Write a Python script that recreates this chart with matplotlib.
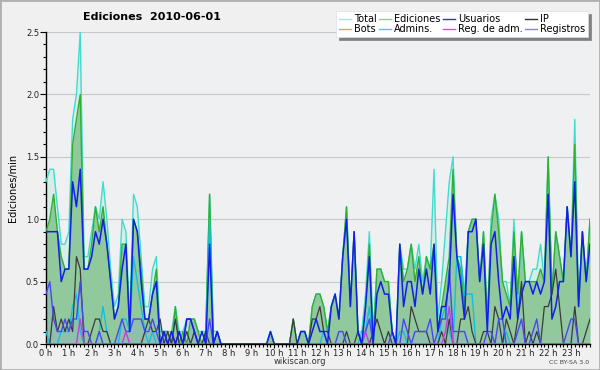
import numpy as np
import matplotlib
matplotlib.use("Agg")
import matplotlib.pyplot as plt
from matplotlib.lines import Line2D
from matplotlib.patches import Rectangle
from matplotlib.ticker import MultipleLocator

# Ediciones por 10 minutos (en ediciones/min), 144 intervalos
total = [1.3, 1.4, 1.4, 1.1, 0.8, 0.8,  0.9, 1.8, 2.0, 2.5, 0.7, 0.7,
         0.9, 1.1, 1.0, 1.3, 1.0, 0.6,  0.3, 0.4, 1.0, 0.9, 0.2, 1.2,
         1.1, 0.7, 0.3, 0.3, 0.6, 0.7,  0.1, 0.1, 0.1, 0.1, 0.3, 0.1,
         0.1, 0.2, 0.2, 0.2, 0.1, 0.1,  0.1, 1.2, 0.1, 0.1, 0.0, 0.0,
         0, 0, 0, 0, 0, 0,  0, 0, 0, 0, 0, 0.1,
         0, 0, 0, 0, 0, 0.2,  0.0, 0.1, 0.1, 0.0, 0.3, 0.4,
         0.4, 0.3, 0.1, 0.3, 0.4, 0.2,  0.7, 1.1, 0.3, 0.9, 0.1, 0.1,
         0.4, 0.9, 0.1, 0.6, 0.6, 0.5,  0.5, 0.1, 0.0, 0.8, 0.6, 0.6,
         0.8, 0.6, 0.8, 0.5, 0.7, 0.6,  1.4, 0.2, 0.5, 0.9, 1.3, 1.5,
         0.7, 0.7, 0.4, 0.9, 1.0, 1.0,  0.5, 0.9, 0.2, 1.0, 1.2, 1.0,
         0.5, 0.5, 0.3, 1.0, 0.3, 0.9,  0.5, 0.5, 0.6, 0.6, 0.8, 0.5,
         1.5, 0.4, 0.9, 0.7, 0.5, 1.1,  0.7, 1.8, 0.3, 0.9, 0.5, 1.0]

ediciones = [0.9, 1.0, 1.2, 0.9, 0.7, 0.6,  0.6, 1.6, 1.8, 2.0, 0.6, 0.6,
             0.8, 1.1, 0.9, 1.1, 0.8, 0.5,  0.2, 0.3, 0.8, 0.8, 0.1, 1.0,
             0.9, 0.6, 0.2, 0.2, 0.4, 0.6,  0.0, 0.1, 0.1, 0.0, 0.3, 0.0,
             0.1, 0.0, 0.2, 0.2, 0.1, 0.0,  0.1, 1.2, 0.0, 0.1, 0.0, 0.0,
             0, 0, 0, 0, 0, 0,  0, 0, 0, 0, 0, 0.1,
             0, 0, 0, 0, 0, 0.2,  0.0, 0.1, 0.1, 0.0, 0.3, 0.4,
             0.4, 0.3, 0.1, 0.3, 0.4, 0.2,  0.7, 1.1, 0.3, 0.9, 0.1, 0.0,
             0.3, 0.8, 0.0, 0.6, 0.6, 0.5,  0.5, 0.1, 0.0, 0.8, 0.5, 0.6,
             0.8, 0.5, 0.7, 0.4, 0.7, 0.6,  0.8, 0.1, 0.3, 0.5, 0.7, 1.4,
             0.7, 0.6, 0.3, 0.9, 1.0, 1.0,  0.5, 0.9, 0.2, 0.9, 1.2, 0.9,
             0.5, 0.4, 0.3, 0.9, 0.4, 0.9,  0.5, 0.5, 0.5, 0.5, 0.6, 0.5,
             1.5, 0.4, 0.9, 0.7, 0.5, 1.1,  0.7, 1.6, 0.3, 0.9, 0.5, 1.0]

usuarios = [0.9, 0.9, 0.9, 0.9, 0.5, 0.6,  0.6, 1.3, 1.1, 1.4, 0.6, 0.6,
            0.7, 0.9, 0.8, 1.0, 0.8, 0.5,  0.2, 0.3, 0.6, 0.8, 0.1, 1.0,
            0.9, 0.5, 0.2, 0.2, 0.4, 0.5,  0.0, 0.1, 0.0, 0.1, 0.0, 0.1,
            0.0, 0.2, 0.2, 0.1, 0.0, 0.1,  0.0, 0.8, 0.0, 0.1, 0.0, 0.0,
            0, 0, 0, 0, 0, 0,  0, 0, 0, 0, 0, 0.1,
            0, 0, 0, 0, 0, 0,  0.0, 0.1, 0.1, 0.0, 0.1, 0.2,
            0.1, 0.1, 0.0, 0.3, 0.4, 0.2,  0.7, 1.0, 0.3, 0.9, 0.1, 0.0,
            0.3, 0.7, 0.0, 0.4, 0.5, 0.4,  0.4, 0.1, 0.0, 0.8, 0.3, 0.5,
            0.5, 0.3, 0.6, 0.4, 0.6, 0.4,  0.8, 0.1, 0.3, 0.3, 0.5, 1.2,
            0.7, 0.5, 0.2, 0.9, 0.9, 1.0,  0.5, 0.8, 0.1, 0.8, 0.9, 0.5,
            0.2, 0.3, 0.2, 0.7, 0.2, 0.4,  0.5, 0.5, 0.4, 0.5, 0.4, 0.5,
            1.2, 0.2, 0.3, 0.5, 0.5, 1.1,  0.7, 1.3, 0.3, 0.9, 0.5, 0.8]

ip = [0.0, 0.0, 0.3, 0.1, 0.2, 0.1,  0.2, 0.1, 0.7, 0.6, 0.0, 0.0,
      0.1, 0.2, 0.2, 0.1, 0.1, 0.0,  0, 0, 0, 0, 0, 0,
      0.0, 0.0, 0.1, 0.2, 0.1, 0.1,  0.2, 0.0, 0.1, 0.0, 0.2, 0.0,
      0.0, 0.1, 0.0, 0.1, 0.0, 0.0,  0.1, 0, 0, 0, 0, 0,
      0, 0, 0, 0, 0, 0,  0, 0, 0, 0, 0, 0,
      0, 0, 0, 0, 0, 0.2,  0, 0, 0, 0, 0.2, 0.2,
      0.3, 0.1, 0.1, 0.0, 0.0, 0.0,  0.0, 0.1, 0.0, 0.0, 0.1, 0.0,
      0.0, 0.0, 0.1, 0.2, 0.1, 0.0,  0.1, 0, 0, 0, 0, 0,
      0.3, 0.2, 0.1, 0.1, 0.1, 0.0,  0.0, 0.0, 0.1, 0.0, 0.2, 0.0,
      0.0, 0.2, 0.2, 0.3, 0.1, 0.0,  0.0, 0.1, 0.1, 0.0, 0.3, 0.2,
      0.0, 0.2, 0.1, 0.0, 0.2, 0.5,  0.0, 0.1, 0.0, 0.1, 0.0, 0.3,
      0.3, 0.4, 0.6, 0.3, 0.0, 0.0,  0.0, 0.3, 0.0, 0.0, 0.1, 0.2]

admins = [0.1, 0, 0, 0, 0.1, 0.1,  0.1, 0.3, 0.4, 0.1, 0, 0,
          0, 0, 0.1, 0.3, 0.1, 0,  0, 0, 0.2, 0.2, 0.1, 0.7,
          0.5, 0.3, 0.1, 0, 0.1, 0,  0, 0, 0, 0, 0, 0,
          0, 0, 0, 0, 0, 0,  0, 1.0, 0, 0, 0, 0,
          0, 0, 0, 0, 0, 0,  0, 0, 0, 0, 0, 0,
          0, 0, 0, 0, 0, 0,  0, 0, 0, 0, 0, 0,
          0, 0.1, 0, 0, 0, 0,  0, 0, 0, 0, 0, 0.1,
          0.1, 0.3, 0, 0, 0, 0,  0, 0, 0, 0.1, 0.1, 0,
          0, 0, 0, 0, 0, 0,  0, 0, 0.2, 0.3, 0.1, 0,
          0.7, 0.7, 0.4, 0.4, 0.4, 0,  0, 0, 0, 0, 0, 0,
          0, 0.1, 0, 0, 0, 0,  0, 0, 0, 0, 0, 0,
          0, 0, 0, 0, 0, 0,  0, 0, 0, 0, 0, 0]

registros = [0.4, 0.5, 0.2, 0.1, 0.1, 0.2,  0.1, 0.2, 0.2, 0.5, 0.1, 0.1,
             0, 0, 0.1, 0, 0, 0,  0, 0.1, 0.2, 0.1, 0.1, 0.2,
             0.2, 0.2, 0.1, 0.1, 0.2, 0.1,  0, 0.1, 0, 0.1, 0, 0.1,
             0, 0.2, 0.2, 0.1, 0, 0,  0, 0.2, 0, 0.1, 0, 0,
             0, 0, 0, 0, 0, 0,  0, 0, 0, 0, 0, 0,
             0, 0, 0, 0, 0, 0,  0, 0, 0, 0, 0, 0,
             0, 0, 0, 0, 0, 0.1,  0.1, 0, 0, 0, 0, 0,
             0.1, 0.2, 0, 0, 0, 0,  0, 0.1, 0, 0, 0.2, 0.1,
             0, 0.1, 0.1, 0.1, 0.1, 0.2,  0, 0.1, 0.2, 0.2, 0.6, 0.1,
             0.1, 0.1, 0.1, 0, 0, 0,  0, 0, 0.1, 0.1, 0, 0.2,
             0.2, 0, 0, 0, 0.1, 0.2,  0, 0, 0.1, 0.2, 0, 0,
             0, 0, 0, 0, 0, 0.1,  0.2, 0.2, 0, 0, 0, 0]

reg_adm = [0] * 144
for i, v in [(9, 0.2), (21, 0.1), (84, 0.1), (105, 0.1), (106, 0.3)]:
    reg_adm[i] = v

horas = np.arange(144) / 6.0

fig = plt.figure(figsize=(6, 3.7), dpi=100, facecolor='#f0f0f0')
ax = fig.add_axes([46/600, 26/370, 544/600, 312/370])
ax.set_facecolor('#eff0f2')

ax.fill_between(horas, total, color='#d6eee6', lw=0, zorder=1)
ax.fill_between(horas, ediciones, color='#92c99c', lw=0, zorder=2)
ax.fill_between(horas, registros, color='#8aa8e0', alpha=0.25, lw=0, zorder=2.5)

ax.plot(horas, total, color='#40dcd0', lw=1.0, zorder=3)
ax.plot(horas, ediciones, color='#30b030', lw=1.0, zorder=3.1)
ax.plot(horas, admins, color='#10c0e0', lw=1.0, zorder=3.2)
ax.plot(horas, ip, color='#3a3a3a', lw=0.9, zorder=3.3)
ax.plot(horas, registros, color='#4848f0', lw=1.0, zorder=3.4)
ax.plot(horas, reg_adm, color='#c040e0', lw=1.0, zorder=3.5)
ax.plot(horas, usuarios, color='#1020e8', lw=1.1, zorder=3.6)

ax.set_xlim(0, 143/6)
ax.set_ylim(0, 2.5)
ax.yaxis.set_minor_locator(MultipleLocator(0.1))
ax.xaxis.set_minor_locator(MultipleLocator(1/6))
ax.set_xticks(range(24))
ax.set_xticklabels([f'{h} h' for h in range(24)])
ax.set_yticks([0, 0.5, 1.0, 1.5, 2.0, 2.5])
ax.set_yticklabels(['0.0', '0.5', '1.0', '1.5', '2.0', '2.5'])
ax.tick_params(axis='y', which='major', labelsize=6, length=4, width=0.8,
               pad=1, labelcolor='#222222')
ax.tick_params(axis='x', which='major', labelsize=6, length=3, width=0.8,
               pad=0.5, labelcolor='#222222')
ax.tick_params(axis='both', which='minor', length=2.5, width=0.8)
ax.grid(axis='y', which='major', color='#c8c8c8', lw=0.8, zorder=0)
ax.set_axisbelow(True)
for s in ['top', 'right']:
    ax.spines[s].set_visible(False)
ax.spines['left'].set_linewidth(1.0)
ax.spines['bottom'].set_linewidth(1.0)

ax.set_ylabel('Ediciones/min', fontsize=7, labelpad=6)
fig.text(152/600, 1 - 17/370, 'Ediciones  2010-06-01', fontsize=8, fontweight='bold',
         ha='center', va='center')
fig.text(300/600, 1 - 362/370, 'wikiscan.org', fontsize=6, ha='center', va='center',
         color='#333333')
fig.text(589/600, 1 - 362/370, 'CC BY-SA 3.0', fontsize=4.5, ha='right', va='center',
         color='#444444')

etiquetas = ['Total', 'Bots', 'Ediciones', 'Admins.', 'Usuarios', 'Reg. de adm.',
             'IP', 'Registros']
colores = ['#a8e4dc', '#f0a040', '#90d090', '#50c8e0', '#3030e0', '#d050e0',
           '#303030', '#8080f0']
handles = [Line2D([], [], color=c, lw=1.0) for c in colores]
leg = fig.legend(handles, etiquetas, ncol=4, loc='upper right',
                 bbox_to_anchor=(588/600, 1 - 11/370), fontsize=7,
                 handlelength=1.2, handletextpad=0.3, columnspacing=0.3,
                 labelspacing=0.05, borderpad=0.3, borderaxespad=0,
                 fancybox=False, shadow={'color': '#808080', 'alpha': 1})
leg.get_frame().set_edgecolor('#e0e0e0')
leg.get_frame().set_linewidth(0.5)

fig.patches.append(Rectangle((0, 0), 1, 1, transform=fig.transFigure, fill=False,
                             edgecolor='#b0b0b0', lw=2))

fig.savefig('out.png', dpi=100, facecolor=fig.get_facecolor())
